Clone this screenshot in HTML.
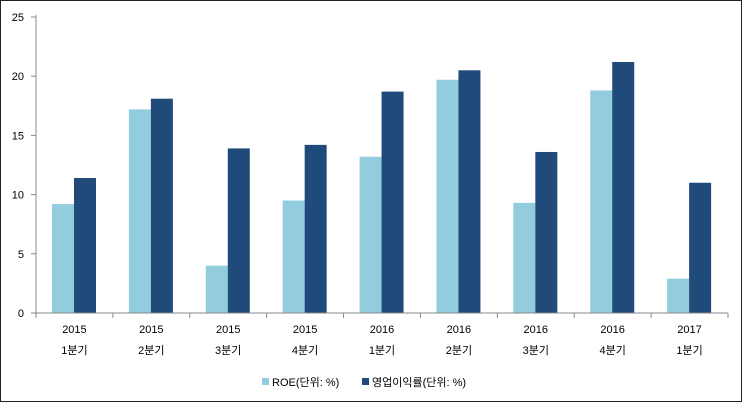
<!DOCTYPE html>
<html><head><meta charset="utf-8"><style>
html,body{margin:0;padding:0;background:#fff;}
svg{display:block;font-family:"Liberation Sans","Noto Sans CJK KR",sans-serif;}
</style></head><body>
<svg id="chart" width="743" height="403">
<rect x="0.5" y="0.5" width="741" height="401" fill="#fff" stroke="#222"/>
<g id="g"></g>
</svg>
<script>
const years=["2015","2015","2015","2015","2016","2016","2016","2016","2017"];
const quarters=["1분기","2분기","3분기","4분기","1분기","2분기","3분기","4분기","1분기"];
const roe=[9.2,17.2,4.0,9.5,13.2,19.7,9.3,18.8,2.9];
const opMargin=[11.4,18.1,13.9,14.2,18.7,20.5,13.6,21.2,11.0];
const yTicks=[0,5,10,15,20,25];
const seriesNames=["ROE(단위: %)","영업이익률(단위: %)"];

const NS="http://www.w3.org/2000/svg";
const g=document.getElementById('g');
const X0=36,X1=728,Y0=313,Y1=17,YMAX=25;
const band=(X1-X0)/years.length;
const y=v=>Y0-(v/YMAX)*(Y0-Y1);
const bx=i=>X0+i*band;
function el(t,a,txt){const e=document.createElementNS(NS,t);for(const k in a)e.setAttribute(k,a[k]);if(txt!==undefined)e.textContent=txt;g.appendChild(e);return e;}
const colors=["#93CDDD","#1F4A7A"];
yTicks.forEach(t=>{
  const l=el('line',{x1:31,x2:36,y1:y(t),y2:y(t),stroke:'#888'});
  
  
  const tx=el('text',{x:24,y:y(t)+4,'font-size':11,'text-anchor':'end',fill:'#000'},String(t));
  
  
});
[roe,opMargin].forEach((s,si)=>{
  s.forEach((v,i)=>{
    const r=el('rect',{x:bx(i)+16+si*22,y:y(v),width:22,height:Y0-y(v),fill:colors[si]});
    
    
  });
});
const ax=el('line',{x1:X0,x2:X1,y1:Y0,y2:Y0,stroke:'#888'});


const ay=el('line',{x1:X0,x2:X0,y1:Y1-2,y2:Y0,stroke:'#888'});


for(let i=0;i<=years.length;i++){
  const t=el('line',{x1:bx(i),x2:bx(i),y1:Y0,y2:Y0+5,stroke:'#888'});
  
  
}
years.forEach((yr,i)=>{
  const cx=bx(i)+band/2;
  const a=el('text',{x:cx,y:333,'font-size':11,'text-anchor':'middle'},yr);
  
  
  const b=el('text',{x:cx,y:354,'font-size':11,'text-anchor':'middle'},quarters[i]);
  
  
});
const lx=[262,362];
seriesNames.forEach((n,i)=>{
  const r=el('rect',{x:lx[i],y:378,width:7,height:7,fill:colors[i]});
  
  
  const t=el('text',{x:lx[i]+10,y:386,'font-size':11},n);
  
  
});
</script>
</body></html>
